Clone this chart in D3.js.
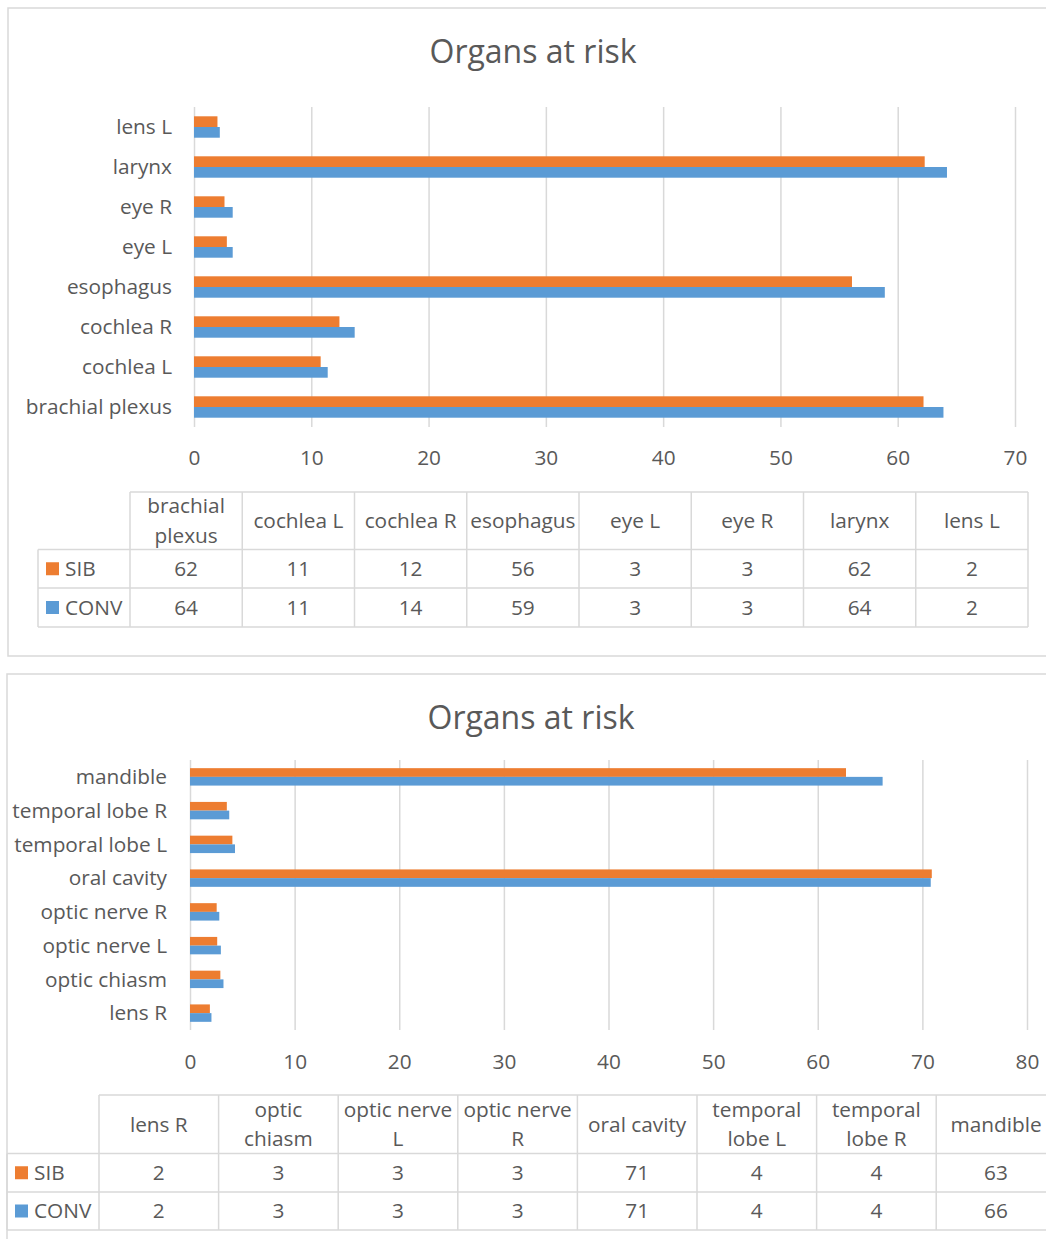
<!DOCTYPE html>
<html>
<head>
<meta charset="utf-8">
<script src="https://cdn.jsdelivr.net/npm/d3@7"></script>
<style>
  body { margin: 0; background: #fff; }
  svg { display: block; font-family: "Open Sans", sans-serif; }
</style>
</head>
<body>
<svg id="chart" width="1046" height="1239"></svg>
<script>
// series
const seriesNames = ["SIB", "CONV"];
const seriesColors = ["#ED7D31", "#5B9BD5"];

// first chart (table order, bars are drawn bottom-up)
const organsTop = ["brachial plexus", "cochlea L", "cochlea R", "esophagus", "eye L", "eye R", "larynx", "lens L"];
const sibTop = [62.2, 10.8, 12.4, 56.1, 2.8, 2.6, 62.3, 2.0];
const convTop = [63.9, 11.4, 13.7, 58.9, 3.3, 3.3, 64.2, 2.2];
const ticksTop = [0, 10, 20, 30, 40, 50, 60, 70];

// second chart
const organsBottom = ["lens R", "optic chiasm", "optic nerve L", "optic nerve R", "oral cavity", "temporal lobe L", "temporal lobe R", "mandible"];
const sibBottom = [1.9, 2.9, 2.6, 2.55, 70.9, 4.05, 3.52, 62.7];
const convBottom = [2.05, 3.2, 2.95, 2.8, 70.8, 4.3, 3.75, 66.2];
const ticksBottom = [0, 10, 20, 30, 40, 50, 60, 70, 80];

const chartTitle = "Organs at risk";

const textColor = "#595959";
const lineColor = "#d9d9d9";
const fs = 20.8;
const fmt = d3.format(".0f");

const svg = d3.select("#chart");

function drawPanel(p) {
  const g = svg.append("g");

  // panel frame (runs off the picture on the right)
  g.append("rect")
    .attr("x", p.box[0]).attr("y", p.box[1])
    .attr("width", p.box[2]).attr("height", p.box[3])
    .attr("fill", "none").attr("stroke", lineColor).attr("stroke-width", 1.5);

  g.append("text")
    .attr("x", p.titleX).attr("y", p.titleY)
    .attr("text-anchor", "middle").attr("dy", "0.35em")
    .attr("font-size", 32).attr("fill", textColor)
    .text(chartTitle);

  const x = d3.scaleLinear().domain([0, d3.max(p.ticks)]).range([p.x0, p.x1]);
  const y = d3.scaleBand()
    .domain(p.cats.slice().reverse())
    .range([p.yTop, p.yBot])
    .paddingInner(p.pad).paddingOuter(p.pad / 2);
  const ys = d3.scaleBand().domain(seriesNames).range([0, y.bandwidth()]);

  // vertical gridlines
  const grid = g.append("g")
    .attr("transform", `translate(0,${p.yBot})`)
    .call(d3.axisBottom(x).tickValues(p.ticks).tickSize(-(p.yBot - p.yTop)).tickFormat(""));
  grid.select(".domain").remove();
  grid.selectAll("line").attr("stroke", lineColor).attr("stroke-width", 1.5);

  // bars
  const rows = p.cats.map((c, i) => ({ cat: c, vals: [p.sib[i], p.conv[i]] }));
  g.selectAll(".grp")
    .data(rows)
    .join("g")
    .attr("transform", d => `translate(0,${y(d.cat)})`)
    .selectAll("rect")
    .data(d => d.vals.map((v, k) => ({ s: seriesNames[k], v: v, c: seriesColors[k] })))
    .join("rect")
    .attr("x", x(0))
    .attr("y", d => ys(d.s))
    .attr("width", d => x(d.v) - x(0))
    .attr("height", ys.bandwidth())
    .attr("fill", d => d.c);

  // value axis labels
  const ax = g.append("g")
    .attr("transform", `translate(0,${p.tickY})`)
    .call(d3.axisBottom(x).tickValues(p.ticks).tickSize(0).tickPadding(0));
  ax.attr("font-size", null).attr("font-family", null);
  ax.select(".domain").remove();
  ax.selectAll("text").attr("y", 0).attr("dy", "0.35em")
    .attr("font-size", fs).attr("fill", textColor);

  // category labels
  const cy = g.append("g")
    .attr("transform", `translate(${p.labelX},0)`)
    .call(d3.axisLeft(y).tickSize(0).tickPadding(0));
  cy.attr("font-size", null).attr("font-family", null);
  cy.select(".domain").remove();
  cy.selectAll("text").attr("dy", "0.35em").attr("font-size", fs).attr("fill", textColor);

  // data table
  const t = p.table;
  const nCols = p.cats.length;
  const xEnd = t.colX0 + nCols * t.colW;
  const tl = g.append("g").attr("stroke", lineColor).attr("stroke-width", 1.5);
  const hLines = [
    [t.colX0, t.rows[0]],
    [t.legendX, t.rows[1]],
    [t.legendX, t.rows[2]],
    [t.legendX, t.rows[3]]
  ];
  hLines.forEach(([x1, yy]) => tl.append("line").attr("x1", x1).attr("x2", xEnd).attr("y1", yy).attr("y2", yy));
  tl.append("line").attr("x1", t.legendX).attr("x2", t.legendX).attr("y1", t.rows[1]).attr("y2", t.rows[3]);
  d3.range(nCols + 1).forEach(j => {
    const xx = t.colX0 + j * t.colW;
    tl.append("line").attr("x1", xx).attr("x2", xx).attr("y1", t.rows[0]).attr("y2", t.rows[3]);
  });

  // header cells with word wrap
  p.cats.forEach((c, j) => {
    const cx = t.colX0 + (j + 0.5) * t.colW;
    const words = c.split(" ");
    const probe = g.append("text").attr("font-size", fs).attr("visibility", "hidden");
    const lines = [];
    let cur = "";
    words.forEach(w => {
      const test = cur ? cur + " " + w : w;
      probe.text(test);
      if (probe.node().getComputedTextLength() > t.colW - 3 && cur) {
        lines.push(cur);
        cur = w;
      } else {
        cur = test;
      }
    });
    lines.push(cur);
    probe.remove();
    const mid = (t.rows[0] + t.rows[1]) / 2;
    lines.forEach((ln, k) => {
      g.append("text")
        .attr("x", cx)
        .attr("y", mid + (k - (lines.length - 1) / 2) * t.lineH)
        .attr("dy", "0.35em").attr("text-anchor", "middle")
        .attr("font-size", fs).attr("fill", textColor)
        .text(ln);
    });
  });

  // value rows with legend keys
  [p.sib, p.conv].forEach((vals, r) => {
    const mid = (t.rows[r + 1] + t.rows[r + 2]) / 2;
    g.append("rect")
      .attr("x", t.legendX + 8).attr("y", mid - 6.5)
      .attr("width", 13).attr("height", 13)
      .attr("fill", seriesColors[r]);
    g.append("text")
      .attr("x", t.legendX + 27).attr("y", mid).attr("dy", "0.35em")
      .attr("font-size", fs).attr("fill", textColor)
      .text(seriesNames[r]);
    vals.forEach((v, j) => {
      g.append("text")
        .attr("x", t.colX0 + (j + 0.5) * t.colW).attr("y", mid)
        .attr("dy", "0.35em").attr("text-anchor", "middle")
        .attr("font-size", fs).attr("fill", textColor)
        .text(fmt(v));
    });
  });
}

drawPanel({
  box: [8, 8, 1050, 648],
  titleX: 533, titleY: 52,
  cats: organsTop, sib: sibTop, conv: convTop, ticks: ticksTop,
  x0: 194, x1: 1015, yTop: 107, yBot: 427, pad: 0.465,
  tickY: 458, labelX: 172,
  table: { legendX: 38, colX0: 130, colW: 112.25, rows: [492, 549.5, 588, 627], lineH: 30 }
});

drawPanel({
  box: [7, 674, 1050, 600],
  titleX: 531, titleY: 718,
  cats: organsBottom, sib: sibBottom, conv: convBottom, ticks: ticksBottom,
  x0: 190, x1: 1027, yTop: 760, yBot: 1030, pad: 0.484,
  tickY: 1062, labelX: 167,
  table: { legendX: 7, colX0: 99, colW: 119.6, rows: [1095, 1153.5, 1192, 1230], lineH: 28.5 }
});
</script>
</body>
</html>
